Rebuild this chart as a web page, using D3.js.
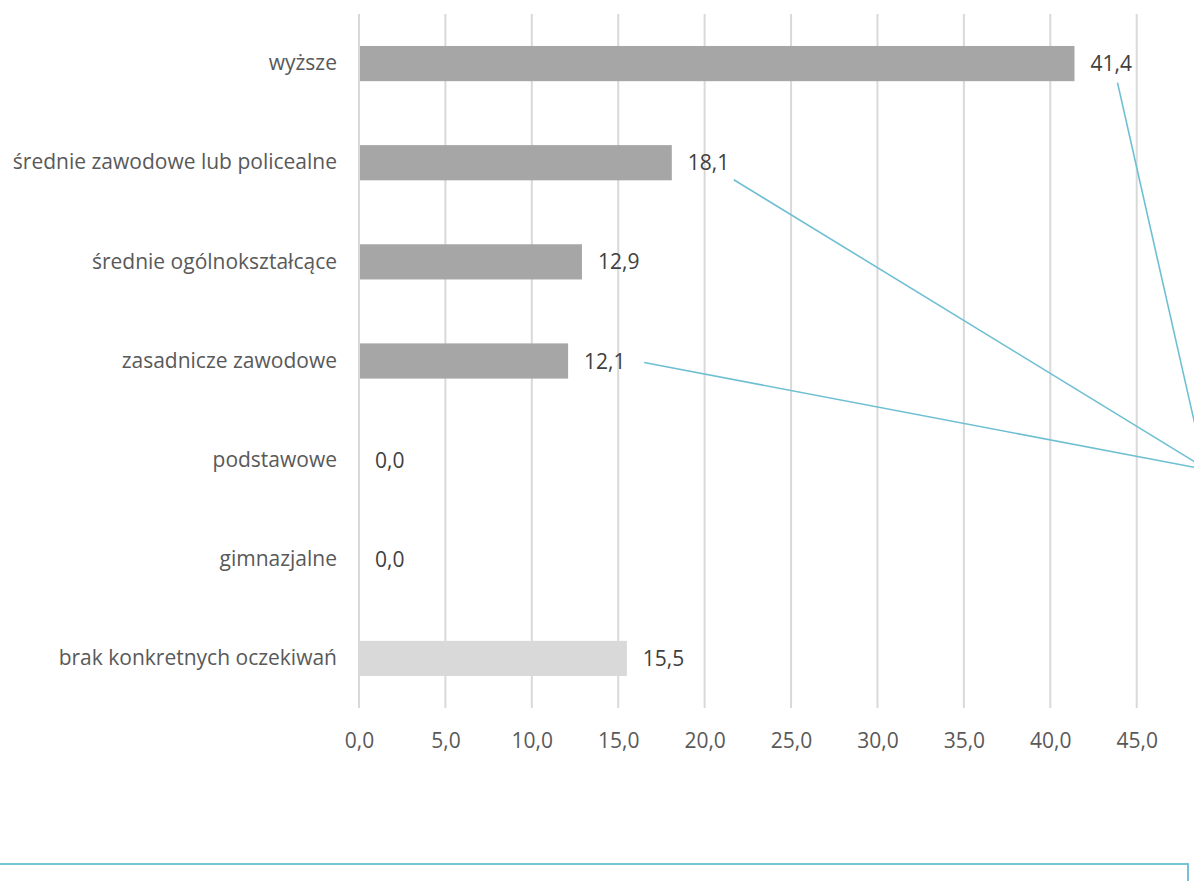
<!DOCTYPE html>
<html>
<head>
<meta charset="utf-8">
<script src="https://cdn.jsdelivr.net/npm/d3@7/dist/d3.min.js"></script>
<style>
  html, body { margin: 0; padding: 0; background: #fff; overflow: hidden; }
  svg { display: block; font-family: "Open Sans", sans-serif; }
</style>
</head>
<body>
<svg id="chart" width="1194" height="881"></svg>
<script>
// Expected level of education
const categories = [
  "wyższe",
  "średnie zawodowe lub policealne",
  "średnie ogólnokształcące",
  "zasadnicze zawodowe",
  "podstawowe",
  "gimnazjalne",
  "brak konkretnych oczekiwań"
];
const values = [41.4, 18.1, 12.9, 12.1, 0.0, 0.0, 15.5];
const highlighted = [true, true, true, true, true, true, false];
const xTicks = [0, 5, 10, 15, 20, 25, 30, 35, 40, 45];
// Labels whose leader lines run off to the right-hand panel
const leaderIdx = [0, 1, 3];

const svg = d3.select("#chart");
const fmt = v => v.toFixed(1).replace(".", ",");
const FONT = 21;

const plot = { left: 359, right: 1136.7, top: 14, bottom: 708 };

const x = d3.scaleLinear().domain([0, 45]).range([plot.left, plot.right]);
const y = d3.scaleBand().domain(categories).range([plot.top, plot.bottom]).paddingInner(0.645).paddingOuter(0.3225);

// vertical gridlines
svg.append("g")
  .selectAll("line")
  .data(xTicks)
  .join("line")
  .attr("x1", d => x(d)).attr("x2", d => x(d))
  .attr("y1", plot.top).attr("y2", plot.bottom)
  .attr("stroke", "#d9d9d9")
  .attr("stroke-width", 2);

// x axis labels
const xAxis = d3.axisBottom(x).tickValues(xTicks).tickFormat(fmt).tickSize(0).tickPadding(0);
const gx = svg.append("g").attr("transform", "translate(0,740)").call(xAxis);
gx.select(".domain").remove();
gx.selectAll("text")
  .attr("y", 0)
  .attr("dy", "0.36em")
  .attr("font-family", "Open Sans, sans-serif")
  .attr("font-size", FONT)
  .attr("fill", "#595959");

// y axis category labels
const yAxis = d3.axisLeft(y).tickSize(0).tickPadding(22);
const gy = svg.append("g").attr("transform", `translate(${plot.left},0)`).call(yAxis);
gy.select(".domain").remove();
gy.selectAll("text")
  .attr("font-family", "Open Sans, sans-serif")
  .attr("font-size", FONT)
  .attr("fill", "#595959");

// bars
svg.append("g")
  .selectAll("rect")
  .data(categories)
  .join("rect")
  .attr("x", x(0) + 1)
  .attr("y", d => y(d))
  .attr("width", (d, i) => Math.max(0, x(values[i]) - x(0) - 1))
  .attr("height", y.bandwidth())
  .attr("fill", (d, i) => highlighted[i] ? "#a6a6a6" : "#d9d9d9");

// value labels
svg.append("g")
  .selectAll("text")
  .data(categories)
  .join("text")
  .attr("x", (d, i) => x(values[i]) + 16)
  .attr("y", d => y(d) + y.bandwidth() / 2)
  .attr("dy", "0.36em")
  .attr("font-size", FONT)
  .attr("fill", "#404040")
  .text((d, i) => fmt(values[i]));

// leader lines towards the detail panel on the right
const leaderEnds = [[1200, 447], [1200, 465], [1200, 468.4]];
const leaderStarts = [
  i => [x(values[i]) + 43, y(categories[i]) + y.bandwidth() / 2 + 19],
  i => [x(values[i]) + 62, y(categories[i]) + y.bandwidth() / 2 + 17],
  i => [x(values[i]) + 76, y(categories[i]) + y.bandwidth() / 2 + 1.5]
];
svg.append("g")
  .selectAll("line")
  .data(leaderIdx)
  .join("line")
  .attr("x1", (d, k) => leaderStarts[k](d)[0])
  .attr("y1", (d, k) => leaderStarts[k](d)[1])
  .attr("x2", (d, k) => leaderEnds[k][0])
  .attr("y2", (d, k) => leaderEnds[k][1])
  .attr("stroke", "#6fbfd3")
  .attr("stroke-width", 1.6);

// framed panel at the bottom
svg.append("rect")
  .attr("x", -1)
  .attr("y", 864)
  .attr("width", 1189)
  .attr("height", 40)
  .attr("fill", "none")
  .attr("stroke", "#78c2d6")
  .attr("stroke-width", 2);
</script>
</body>
</html>
